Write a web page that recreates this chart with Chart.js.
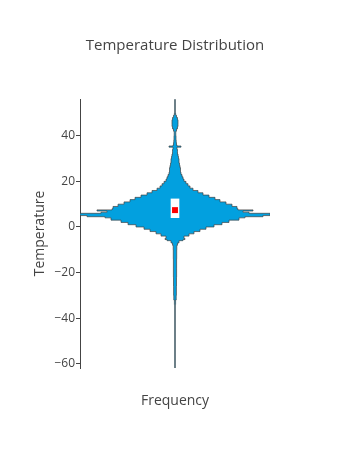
<!DOCTYPE html>
<html>
<head>
<meta charset="utf-8">
<script src="https://cdn.jsdelivr.net/npm/chart.js@4.4.1/dist/chart.umd.min.js"></script>
<style>
  html, body { margin: 0; padding: 0; background: #fff; }
  #wrap { width: 350px; height: 450px; }
</style>
</head>
<body>
<div id="wrap"><canvas id="violin"></canvas></div>
<script>
var ctx = document.getElementById('violin').getContext('2d');
/* Temperature distribution (violin) */
const temps = [-62, -34, -32, -30, -26, -22, -18, -14, -10, -8, -7, -6, -5.5, -5, -4, -3, -2, -1, 0, 1, 2, 3, 4, 4.5, 5, 6, 6.5, 7, 7.5, 8, 9, 10, 11, 12, 13, 14, 15, 16, 17, 18, 19, 20, 21, 22, 23, 24, 25, 26, 27, 28, 29, 30, 31, 32, 33, 34, 35, 35.5, 36, 37, 38, 40, 42, 43, 44, 45, 47, 48, 49, 50, 56];
const freq = [0.3, 0.3, 0.6, 1.2, 1.4, 1.5, 1.6, 1.6, 1.7, 1.8, 2.5, 4, 8, 10, 9, 14, 19, 25, 31, 39, 47, 54, 64, 70, 88, 95, 74, 68, 78, 63, 62, 57, 51, 45, 40, 34, 28, 23, 18, 15, 13, 11, 9, 8, 7, 6, 5.5, 5.5, 5, 4.5, 4, 4, 3.5, 3, 2.5, 2.5, 2, 6, 2, 1.5, 1.2, 1, 0.8, 1.5, 2.5, 3, 3, 2.5, 1.5, 0.6, 0.3];
const boxRange = [4.1, 12.3];
const centerValue = 7.4;
const yTicks = [-60, -40, -20, 0, 20, 40];

const rightSide = temps.map((t, i) => ({x: freq[i], y: t}));
const leftSide = temps.map((t, i) => ({x: -freq[i], y: t}));

const fontFamily = "'Open Sans', sans-serif";

var myChart = new Chart(ctx, {
    type: 'line',
    data: {
        datasets: [
            {
                type: 'scatter',
                data: [{x: 0, y: centerValue}],
                pointStyle: 'rect',
                pointRadius: 4.2,
                backgroundColor: '#ff0000',
                borderWidth: 0
            },
            {
                type: 'bar',
                data: [{x: 0, y: boxRange}],
                backgroundColor: '#ffffff',
                borderWidth: 0,
                barThickness: 8
            },
            {
                indexAxis: 'y',
                data: leftSide,
                stepped: true,
                fill: 'origin',
                backgroundColor: '#02a0df',
                borderColor: '#444',
                borderWidth: 0.7,
                pointRadius: 0
            },
            {
                indexAxis: 'y',
                data: rightSide,
                stepped: true,
                fill: 'origin',
                backgroundColor: '#02a0df',
                borderColor: '#444',
                borderWidth: 0.7,
                pointRadius: 0
            }
        ]
    },
    options: {
        responsive: true,
        maintainAspectRatio: false,
        animation: false,
        plugins: {
            legend: { display: false },
            tooltip: { enabled: false },
            title: {
                display: true,
                text: 'Temperature Distribution',
                color: '#444',
                font: { family: fontFamily, size: 15, weight: 'normal' },
                padding: { top: 37, bottom: 44 }
            }
        },
        scales: {
            x: {
                type: 'linear',
                min: -95,
                max: 95,
                offset: false,
                ticks: { display: false },
                grid: { display: false },
                border: { display: false },
                title: {
                    display: true,
                    text: 'Frequency',
                    color: '#444',
                    font: { family: fontFamily, size: 14 },
                    padding: { top: 0, bottom: 40.6 }
                },
                afterFit: function (scale) { scale.height = 82; }
            },
            y: {
                type: 'linear',
                min: -61.8,
                max: 56.1,
                afterBuildTicks: function (scale) {
                    scale.ticks = yTicks.map(v => ({value: v}));
                },
                ticks: {
                    color: '#444',
                    padding: 1,
                    font: { family: fontFamily, size: 12 },
                    callback: v => v < 0 ? '\u2212' + Math.abs(v) : String(v)
                },
                grid: {
                    drawOnChartArea: false,
                    drawTicks: true,
                    tickLength: 4,
                    color: '#444'
                },
                border: { display: true, color: '#444', width: 1 },
                title: {
                    display: true,
                    text: 'Temperature',
                    color: '#444',
                    font: { family: fontFamily, size: 14 },
                    padding: { top: 31.6, bottom: 0 }
                },
                afterFit: function (scale) { scale.width = 80; }
            },
            // empty right margin, keeps the plot at the same width as the reference
            yRight: {
                type: 'linear',
                position: 'right',
                ticks: { display: false },
                grid: { display: false },
                border: { display: false },
                afterFit: function (scale) { scale.width = 80; }
            }
        }
    }
});
</script>
</body>
</html>
